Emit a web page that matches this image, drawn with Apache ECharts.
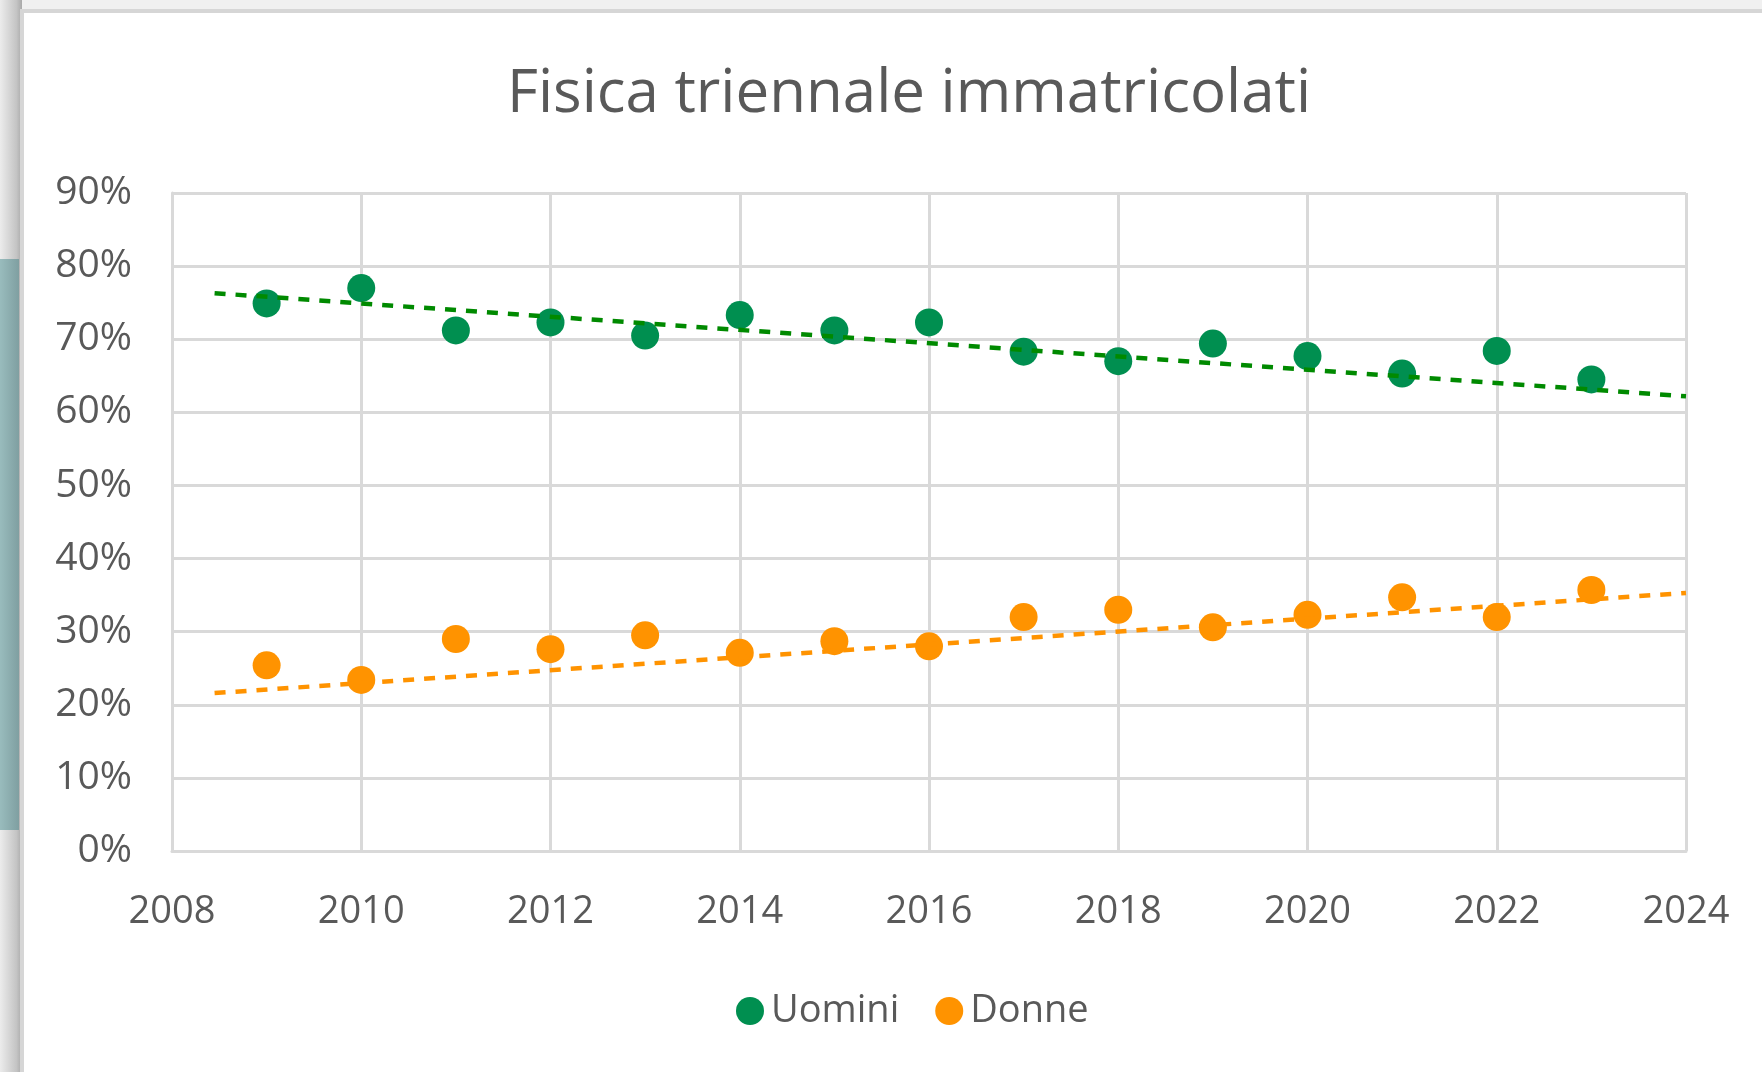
<!DOCTYPE html>
<html>
<head>
<meta charset="utf-8">
<title>Fisica triennale immatricolati</title>
<script src="https://cdn.jsdelivr.net/npm/echarts@6/dist/echarts.min.js"></script>
<style>
  html, body { margin: 0; padding: 0; background: #ffffff; }
  #chart { width: 1762px; height: 1072px; }
</style>
</head>
<body>
<div id="chart"></div>
<script>
// anni accademici (asse x)
const years = [2009, 2010, 2011, 2012, 2013, 2014, 2015, 2016, 2017, 2018, 2019, 2020, 2021, 2022, 2023]
// quota percentuale di immatricolati
const uomini = [74.9, 77.0, 71.2, 72.3, 70.5, 73.3, 71.2, 72.3, 68.3, 67.0, 69.4, 67.7, 65.3, 68.4, 64.5]
const donne = [25.4, 23.4, 29.0, 27.6, 29.5, 27.1, 28.7, 28.0, 32.0, 33.0, 30.6, 32.3, 34.7, 32.0, 35.7]
// linee di tendenza (estremi)
const trendYears = [2008.45, 2024]
const uominiTrend = [76.3, 62.2]
const donneTrend = [21.6, 35.3]
// tick asse y
const yTicks = [0, 10, 20, 30, 40, 50, 60, 70, 80, 90]

const textColor = '#595959'
const gridColor = '#d9d9d9'
const green = '#008f50'
const greenTrend = '#008a00'
const orange = '#ff9300'
const font = 'Open Sans'

const pairs = (xs, ys) => xs.map((x, i) => [x, ys[i]])

const myChart = echarts.init(document.getElementById('chart'))
myChart.setOption({
  animation: false,
  textStyle: { fontFamily: font },
  // cornice dello screenshot (ombra a sinistra, bordo in alto)
  graphic: [
    {
      type: 'rect', z: -10, silent: true,
      shape: { x: 0, y: 0, width: 1762, height: 1072 },
      style: { fill: '#f0f0f0' }
    },
    {
      type: 'rect', z: -9, silent: true,
      shape: { x: 0, y: 0, width: 22, height: 1072 },
      style: {
        fill: new echarts.graphic.LinearGradient(0, 0, 1, 0, [
          { offset: 0, color: '#ececec' },
          { offset: 0.75, color: '#c4c4c4' },
          { offset: 1, color: '#a9a9a9' }
        ])
      }
    },
    {
      type: 'rect', z: -8, silent: true,
      shape: { x: 0, y: 259, width: 19, height: 571 },
      style: {
        fill: new echarts.graphic.LinearGradient(0, 0, 1, 0, [
          { offset: 0, color: '#99bcbd' },
          { offset: 1, color: '#7f9fa1' }
        ])
      }
    },
    {
      type: 'rect', z: -7, silent: true,
      shape: { x: 22, y: 11, width: 1760, height: 1080 },
      style: { fill: '#ffffff', stroke: '#d6d6d6', lineWidth: 4 }
    }
  ],
  title: {
    text: 'Fisica triennale immatricolati',
    left: 904,
    top: 60,
    textAlign: 'center',
    textStyle: {
      color: textColor,
      fontFamily: font,
      fontWeight: 'normal',
      fontSize: 60
    }
  },
  legend: {
    left: 731,
    top: 987,
    icon: 'circle',
    itemWidth: 28,
    itemHeight: 28,
    itemGap: 36,
    data: ['Uomini', 'Donne'],
    textStyle: {
      color: textColor,
      fontFamily: font,
      fontSize: 38,
      padding: [0, 0, 0, 2]
    }
  },
  grid: {
    left: 172,
    right: 76,
    top: 193,
    bottom: 221,
    containLabel: false
  },
  xAxis: {
    type: 'value',
    min: 2008,
    max: 2024,
    interval: 2,
    axisLine: { show: true, lineStyle: { color: gridColor, width: 3 } },
    axisTick: { show: false },
    splitLine: { show: true, lineStyle: { color: gridColor, width: 3 } },
    axisLabel: {
      color: textColor,
      fontFamily: font,
      fontSize: 38,
      margin: 42,
      showMinLabel: true,
      showMaxLabel: true,
      formatter: v => String(v)
    }
  },
  yAxis: {
    type: 'value',
    min: yTicks[0],
    max: yTicks[yTicks.length - 1],
    interval: 10,
    axisLine: { show: true, lineStyle: { color: gridColor, width: 3 } },
    axisTick: { show: false },
    splitLine: { show: true, lineStyle: { color: gridColor, width: 3 } },
    axisLabel: {
      color: textColor,
      fontFamily: font,
      fontSize: 39,
      margin: 40,
      formatter: '{value}%'
    }
  },
  series: [
    {
      name: 'Uomini',
      type: 'scatter',
      data: pairs(years, uomini),
      symbol: 'circle',
      symbolSize: 28,
      itemStyle: { color: green, opacity: 1 },
      z: 3
    },
    {
      name: 'Donne',
      type: 'scatter',
      data: pairs(years, donne),
      symbol: 'circle',
      symbolSize: 28,
      itemStyle: { color: orange, opacity: 1 },
      z: 3
    },
    {
      name: 'Tendenza Uomini',
      type: 'line',
      data: pairs(trendYears, uominiTrend),
      showSymbol: false,
      symbol: 'none',
      lineStyle: { color: greenTrend, width: 4.5, type: [11, 10] },
      z: 4
    },
    {
      name: 'Tendenza Donne',
      type: 'line',
      data: pairs(trendYears, donneTrend),
      showSymbol: false,
      symbol: 'none',
      lineStyle: { color: orange, width: 4.5, type: [11, 10] },
      z: 4
    }
  ]
})
</script>
</body>
</html>
